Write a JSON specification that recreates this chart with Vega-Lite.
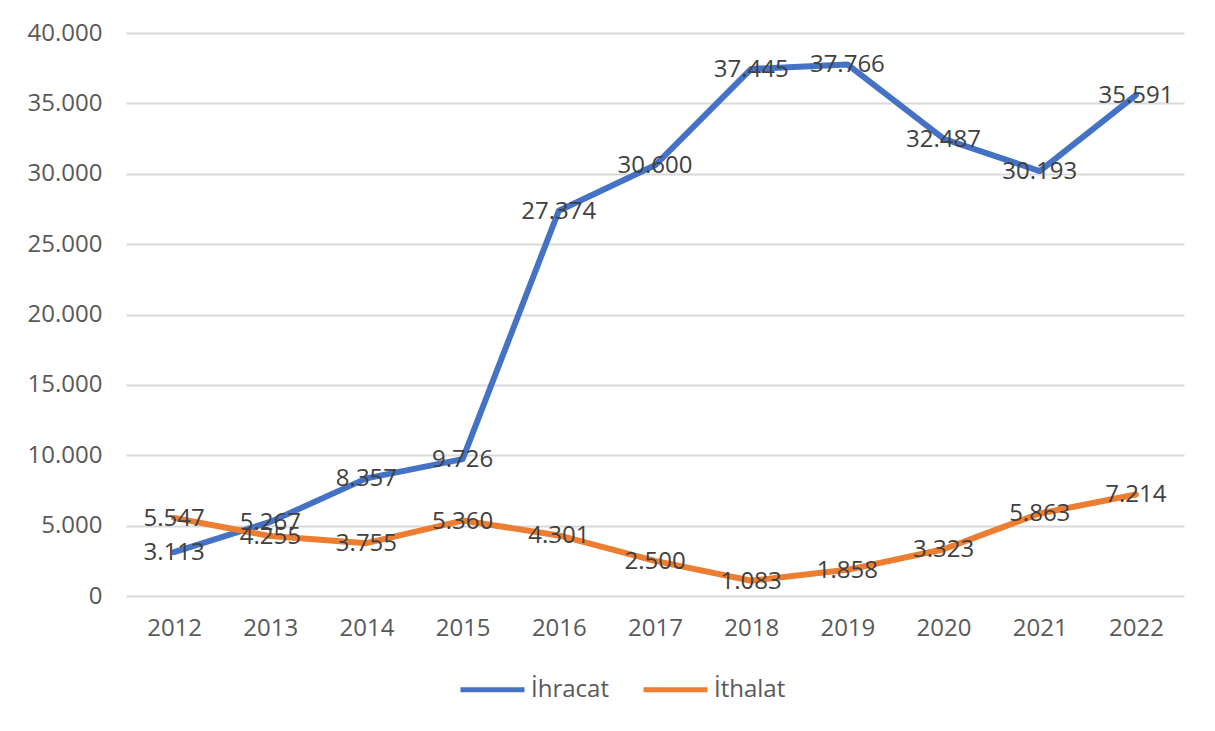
{
  "$schema": "https://vega.github.io/schema/vega-lite/v6.json",
  "width": 1058,
  "height": 563,
  "autosize": {"type": "none"},
  "padding": {"left": 126, "top": 33, "right": 31, "bottom": 135},
  "background": "white",
  "config": {
    "locale": {"number": {"decimal": ",", "thousands": ".", "grouping": [3], "currency": ["", ""]}},
    "view": {"stroke": null},
    "font": "Open Sans"
  },
  "data": {
    "values": [
      {"year": "2012", "series": "İhracat", "value": 3113},
      {"year": "2013", "series": "İhracat", "value": 5267},
      {"year": "2014", "series": "İhracat", "value": 8357},
      {"year": "2015", "series": "İhracat", "value": 9726},
      {"year": "2016", "series": "İhracat", "value": 27374},
      {"year": "2017", "series": "İhracat", "value": 30600},
      {"year": "2018", "series": "İhracat", "value": 37445},
      {"year": "2019", "series": "İhracat", "value": 37766},
      {"year": "2020", "series": "İhracat", "value": 32487},
      {"year": "2021", "series": "İhracat", "value": 30193},
      {"year": "2022", "series": "İhracat", "value": 35591},
      {"year": "2012", "series": "İthalat", "value": 5547},
      {"year": "2013", "series": "İthalat", "value": 4255},
      {"year": "2014", "series": "İthalat", "value": 3755},
      {"year": "2015", "series": "İthalat", "value": 5360},
      {"year": "2016", "series": "İthalat", "value": 4301},
      {"year": "2017", "series": "İthalat", "value": 2500},
      {"year": "2018", "series": "İthalat", "value": 1083},
      {"year": "2019", "series": "İthalat", "value": 1858},
      {"year": "2020", "series": "İthalat", "value": 3323},
      {"year": "2021", "series": "İthalat", "value": 5863},
      {"year": "2022", "series": "İthalat", "value": 7214}
    ]
  },
  "encoding": {
    "x": {
      "field": "year", "type": "ordinal",
      "scale": {"type": "point", "padding": 0.5},
      "axis": {"title": null, "labelAngle": 0, "domain": false, "ticks": false, "grid": false,
               "labelFontSize": 24, "labelColor": "#595959", "labelPadding": 20, "labelFont": "Open Sans"}
    },
    "y": {
      "field": "value", "type": "quantitative",
      "scale": {"domain": [0, 40000], "nice": false},
      "axis": {"title": null, "values": [0, 5000, 10000, 15000, 20000, 25000, 30000, 35000, 40000],
               "format": ",d", "domain": false, "ticks": false, "gridColor": "#d9d9d9", "gridWidth": 2,
               "labelFontSize": 24, "labelColor": "#595959", "labelPadding": 24, "labelFont": "Open Sans"}
    }
  },
  "layer": [
    {
      "mark": {"type": "line", "strokeWidth": 6, "strokeCap": "round", "strokeJoin": "round"},
      "encoding": {
        "color": {
          "field": "series", "type": "nominal",
          "scale": {"domain": ["İhracat", "İthalat"], "range": ["#4472C4", "#ED7D31"]},
          "legend": {
            "title": null, "orient": "none", "direction": "horizontal",
            "legendX": 332, "legendY": 622,
            "symbolType": "stroke", "symbolSize": 4096, "symbolStrokeWidth": 5,
            "labelFontSize": 24, "labelColor": "#595959", "labelFont": "Open Sans",
            "columnPadding": 24, "labelOffset": 4
          }
        }
      }
    },
    {
      "mark": {"type": "text", "fontSize": 24, "color": "#404040", "baseline": "middle", "align": "center", "font": "Open Sans", "dy": 1},
      "encoding": {
        "text": {"field": "value", "type": "quantitative", "format": ",d"},
        "detail": {"field": "series"}
      }
    }
  ]
}
